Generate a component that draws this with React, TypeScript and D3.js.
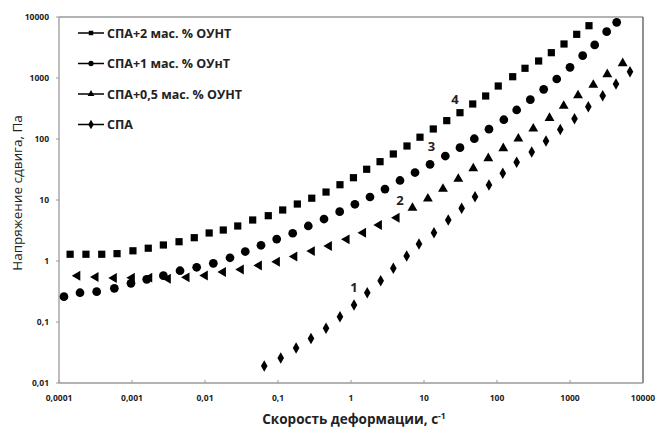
import React from "react";
import * as d3 from "d3";

// ---------- data ----------
const xTickValues = [0.0001, 0.001, 0.01, 0.1, 1, 10, 100, 1000, 10000];
const xTickLabels = ["0,0001", "0,001", "0,01", "0,1", "1", "10", "100", "1000", "10000"];
const yTickValues = [0.01, 0.1, 1, 10, 100, 1000, 10000];
const yTickLabels = ["0,01", "0,1", "1", "10", "100", "1000", "10000"];

const legendLabels = ["СПА+2 мас. % ОУНТ", "СПА+1 мас. % ОУнТ", "СПА+0,5 мас. % ОУНТ", "СПА"];

// Series 4: СПА+2 мас. % ОУНТ (squares)
const s4x = [1.42e-4, 2.34e-4, 3.85e-4, 6.24e-4, 1.03e-3, 1.67e-3, 2.69e-3, 4.41e-3, 7.13e-3, 0.0114, 0.0178, 0.0281, 0.045, 0.0736, 0.116, 0.184, 0.29, 0.455, 0.706, 1.08, 1.64, 2.5, 3.8, 5.85, 8.81, 13.4, 20.5, 31.1, 46.5, 70, 104, 164, 242, 372, 555, 828, 1236, 1820];
const s4y = [1.29, 1.29, 1.29, 1.32, 1.47, 1.62, 1.83, 2.07, 2.41, 2.88, 3.22, 3.75, 4.7, 5.53, 6.86, 8.59, 10.7, 13.5, 17.8, 23.2, 31.9, 42.5, 56.8, 76.8, 107, 146, 200, 270, 375, 507, 739, 1050, 1443, 1900, 2600, 3610, 5200, 7200];

// Series 3: СПА+1 мас. % ОУнТ (circles)
const s3x = [1.17e-4, 1.94e-4, 3.28e-4, 5.73e-4, 9.68e-4, 1.59e-3, 2.69e-3, 4.55e-3, 7.69e-3, 0.013, 0.022, 0.0356, 0.0585, 0.096, 0.159, 0.26, 0.427, 0.7, 1.13, 1.82, 2.92, 4.69, 7.53, 12.1, 19.6, 31.1, 48.9, 77.6, 124, 186, 286, 436, 658, 1000, 1493, 2180, 3180, 4360];
const s3y = [0.26, 0.302, 0.314, 0.357, 0.431, 0.501, 0.574, 0.693, 0.789, 0.917, 1.13, 1.43, 1.81, 2.29, 2.85, 3.75, 4.88, 6.43, 8.51, 11.2, 15.1, 20.9, 28.2, 38.5, 52.6, 72, 101, 145, 207, 299, 441, 653, 963, 1497, 2320, 3480, 5740, 8190];

// Series 2: СПА+0,5 мас. % ОУНТ (triangles)
const s2x = [1.79e-4, 3.18e-4, 5.66e-4, 1.0e-3, 1.73e-3, 3.11e-3, 5.61e-3, 0.01, 0.0177, 0.0311, 0.055, 0.0969, 0.168, 0.292, 0.5, 0.873, 1.47, 2.42, 4.23, 6.95, 11.3, 18.2, 29.5, 47.3, 76, 122, 196, 314, 524, 820, 1288, 2085, 3243, 5270];
const s2y = [0.596, 0.568, 0.547, 0.553, 0.553, 0.531, 0.561, 0.601, 0.686, 0.754, 0.877, 1.01, 1.23, 1.51, 1.83, 2.35, 3.02, 4.04, 5.32, 7.68, 10.9, 15.8, 23.1, 34.1, 50.1, 73.1, 105, 153, 229, 361, 537, 798, 1194, 1809];

// Series 1: СПА (diamonds)
const s1x = [0.0648, 0.109, 0.177, 0.283, 0.455, 0.706, 1.1, 1.67, 2.55, 3.8, 5.79, 8.54, 13.7, 21.5, 32.8, 50, 77.6, 120, 186, 299, 469, 736, 1153, 1782, 2805, 4266, 6637];
const s1y = [0.019, 0.0257, 0.0375, 0.0535, 0.0789, 0.122, 0.19, 0.302, 0.475, 0.759, 1.21, 1.9, 2.91, 4.7, 7.31, 11.3, 17.6, 27.4, 41.5, 61.2, 92.7, 143, 215, 339, 513, 798, 1268];

// curve number annotations
const annLabels = ["1", "2", "3", "4"];
const annX = [1.1, 4.69, 12.7, 26.6];
const annY = [0.375, 10, 76.8, 453];

// ---------- layout ----------
const W = 657;
const H = 427;
const M = { left: 59, top: 17, right: 14, bottom: 44 };
const FONT = "'Open Sans', 'Noto Sans', sans-serif";
const TRI_TURN_X = 5; // triangles drawn left-pointing below this shear rate

export default function App() {
  const x = d3.scaleLog().domain([0.0001, 10000]).range([M.left, W - M.right]);
  const y = d3.scaleLog().domain([0.01, 10000]).range([H - M.bottom, M.top]);

  const sym = (type: d3.SymbolType, size: number) => d3.symbol().type(type).size(size)() as string;
  const squarePath = sym(d3.symbolSquare, 52);
  const circlePath = sym(d3.symbolCircle, 60);
  const trianglePath = sym(d3.symbolTriangle, 42);
  const diamondPath = sym(d3.symbolDiamond, 38);

  const series = [
    { xs: s4x, ys: s4y, path: squarePath, kind: "sq" },
    { xs: s3x, ys: s3y, path: circlePath, kind: "ci" },
    { xs: s2x, ys: s2y, path: trianglePath, kind: "tr" },
    { xs: s1x, ys: s1y, path: diamondPath, kind: "di" },
  ];

  const legendPaths = [
    sym(d3.symbolSquare, 20),
    sym(d3.symbolCircle, 22),
    sym(d3.symbolTriangle, 20),
    sym(d3.symbolDiamond, 26),
  ];

  const x0 = M.left;
  const x1 = W - M.right;
  const y0 = H - M.bottom;
  const y1 = M.top;

  return (
    <svg
      width={W}
      height={H}
      style={{ position: "absolute", left: 0, top: 0, display: "block", background: "#fff" }}
      fontFamily={FONT}
    >
      <rect x={0} y={0} width={W} height={H} fill="#fff" />
      {/* frame */}
      <line x1={x0} y1={y1} x2={x1} y2={y1} stroke="#9a9a9a" strokeWidth={1.3} />
      <line x1={x1} y1={y1} x2={x1} y2={y0} stroke="#555" strokeWidth={1.3} />
      <line x1={x0} y1={y0} x2={x1} y2={y0} stroke="#9a9a9a" strokeWidth={1.3} />
      <line x1={x0} y1={y0} x2={x0} y2={y1} stroke="#9a9a9a" strokeWidth={1.3} />

      {/* x ticks */}
      {xTickValues.map((v, i) => (
        <g key={"xt" + i}>
          <line x1={x(v)} x2={x(v)} y1={y0} y2={y0 - 3} stroke="#9a9a9a" strokeWidth={1} />
          <text x={x(v)} y={y0 + 18} textAnchor="middle" fontSize={8.5} fontWeight="bold" fill="#222">
            {xTickLabels[i]}
          </text>
        </g>
      ))}
      {/* y ticks */}
      {yTickValues.map((v, i) => (
        <g key={"yt" + i}>
          <line x1={x0 - 3} x2={x0} y1={y(v)} y2={y(v)} stroke="#9a9a9a" strokeWidth={1} />
          <text x={x0 - 10} y={y(v) + 3} textAnchor="end" fontSize={8.5} fontWeight="bold" fill="#222">
            {yTickLabels[i]}
          </text>
        </g>
      ))}

      {/* axis titles */}
      <text x={354} y={424} textAnchor="middle" fontSize={13.5} fontWeight="bold" fill="#222">
        Скорость деформации, с
        <tspan dy={-5} fontSize={8.5}>-1</tspan>
      </text>
      <text
        transform={`translate(22, ${193}) rotate(-90)`}
        textAnchor="middle"
        fontSize={13.5}
        fill="#222"
      >
        Напряжение сдвига, Па
      </text>

      {/* data */}
      {series.map((s, si) => (
        <g key={"s" + si} fill="#000">
          {s.xs.map((xv, i) => {
            const rot = s.kind === "tr" && xv < TRI_TURN_X ? -90 : 0;
            const dy = s.kind === "tr" ? 1 : 0;
            return (
              <path
                key={i}
                d={s.path}
                transform={`translate(${x(xv)}, ${y(s.ys[i]) + dy}) rotate(${rot})`}
              />
            );
          })}
        </g>
      ))}

      {/* annotations */}
      {annLabels.map((t, i) => (
        <text key={"a" + i} x={x(annX[i])} y={y(annY[i]) + 5} textAnchor="middle" fontSize={13} fontWeight="bold" fill="#222">
          {t}
        </text>
      ))}

      {/* legend */}
      {legendLabels.map((t, i) => {
        const ly = 33 + i * 30.5;
        return (
          <g key={"l" + i}>
            <line x1={78} x2={104} y1={ly} y2={ly} stroke="#000" strokeWidth={1.5} />
            <path d={legendPaths[i]} transform={`translate(91, ${ly})`} fill="#000" />
            <text x={107} y={ly + 4.5} fontSize={12.5} fontWeight="bold" fill="#222">
              {t}
            </text>
          </g>
        );
      })}
    </svg>
  );
}
